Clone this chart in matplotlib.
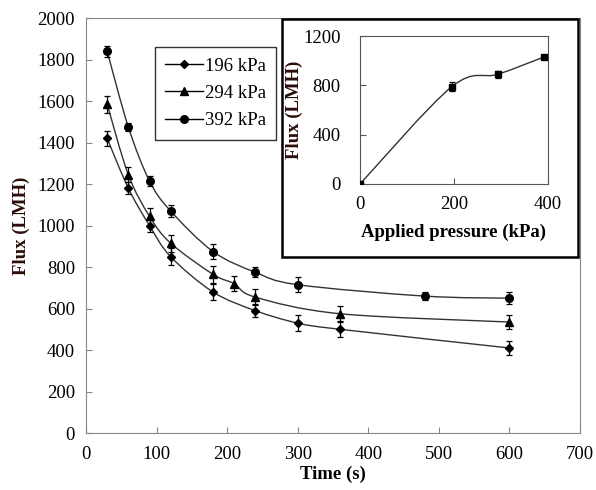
import numpy as np
import matplotlib
matplotlib.use("Agg")
import matplotlib.pyplot as plt
from matplotlib.path import Path
from matplotlib.patches import PathPatch, Rectangle

# flux decline over time at three pressures
time_196 = [30, 60, 90, 120, 180, 240, 300, 360, 600]
flux_196 = [1420, 1180, 1000, 850, 680, 590, 530, 500, 410]
err_196 = [35, 30, 30, 40, 40, 30, 40, 35, 35]

time_294 = [30, 60, 90, 120, 180, 210, 240, 360, 600]
flux_294 = [1585, 1245, 1045, 915, 765, 720, 655, 575, 535]
err_294 = [40, 35, 40, 40, 40, 35, 40, 35, 35]

time_392 = [30, 60, 90, 120, 180, 240, 300, 480, 600]
flux_392 = [1840, 1475, 1215, 1070, 875, 775, 715, 660, 650]
err_392 = [25, 20, 25, 30, 35, 25, 35, 20, 30]

# inset: steady flux vs applied pressure
pressure = [0, 196, 294, 392]
flux_p = [0, 790, 890, 1030]
err_p = [5, 35, 30, 20]

plt.rcParams["font.family"] = ["Liberation Serif", "DejaVu Serif"]


def smooth(ax, xs, ys):
    # catmull-rom style smoothed line, like excel's smoothed scatter
    p = np.column_stack([xs, ys]).astype(float)
    n = len(p)
    verts = [p[0]]
    codes = [Path.MOVETO]
    for i in range(n - 1):
        p0 = p[i - 1] if i > 0 else p[i]
        p3 = p[i + 2] if i + 2 < n else p[i + 1]
        c1 = p[i] + (p[i + 1] - p0) / 6
        c2 = p[i + 1] - (p3 - p[i]) / 6
        verts += [c1, c2, p[i + 1]]
        codes += [Path.CURVE4] * 3
    ax.add_patch(PathPatch(Path(verts, codes), fill=False, lw=1.0,
                           edgecolor="#333333", zorder=2))


fig = plt.figure(figsize=(5.96, 4.90), dpi=100)
ax = fig.add_axes([0.1443, 0.1163, 0.8287, 0.8467])

series = [
    (time_196, flux_196, err_196, "D", 4.5, "196 kPa"),
    (time_294, flux_294, err_294, "^", 6, "294 kPa"),
    (time_392, flux_392, err_392, "o", 5.5, "392 kPa"),
]
handles = []
for t, f, e, m, ms, lab in series:
    smooth(ax, t, f)
    ax.errorbar(t, f, yerr=e, fmt=m, ms=ms, color="black", ecolor="black",
                elinewidth=0.9, capsize=2.5, capthick=0.9, zorder=3)
    h, = ax.plot([], [], marker=m, ms=ms, color="black", lw=1.0, label=lab)
    handles.append(h)

ax.set_xlim(0, 700)
ax.set_ylim(0, 2000)
ax.set_xticks(range(0, 701, 100))
ax.set_yticks(range(0, 2001, 200))
ax.tick_params(direction="in", length=4, labelsize=13.5, color="#888888")
ax.tick_params(axis="x", pad=9)
ax.tick_params(axis="y", pad=8)
for s in ax.spines.values():
    s.set_color("#888888")
ax.set_xlabel("Time (s)", fontsize=13.5, fontweight="bold", labelpad=2)
ax.set_ylabel("Flux (LMH)", fontsize=13.5, fontweight="bold", color="#2a0c08",
              labelpad=5)

leg = ax.legend(handles=handles, loc="upper left",
                bbox_to_anchor=(0.14, 0.93), fontsize=13.5, frameon=True,
                fancybox=False, edgecolor="black", handlelength=2.0,
                borderpad=0.55, labelspacing=0.55, handletextpad=0.1,
                borderaxespad=0)
leg.get_frame().set_linewidth(1.0)

# frame around the inset
fig.patches.append(Rectangle((0.473, 0.4755), 0.497, 0.4855,
                             transform=fig.transFigure, facecolor="white",
                             edgecolor="black", lw=1.8, zorder=5))

ins = fig.add_axes([0.604, 0.6245, 0.315, 0.302], zorder=6)
smooth(ins, pressure, flux_p)
ins.errorbar(pressure, flux_p, yerr=err_p, fmt="s", ms=4.5, color="black",
             elinewidth=0.9, capsize=2.5, capthick=0.9, zorder=3)
ins.set_xlim(0, 400)
ins.set_ylim(0, 1200)
ins.set_xticks([0, 200, 400])
ins.set_yticks([0, 400, 800, 1200])
ins.tick_params(direction="in", length=4, labelsize=13.5, color="#555555")
ins.tick_params(axis="x", pad=9)
ins.tick_params(axis="y", pad=14)
for s in ins.spines.values():
    s.set_color("#555555")
ins.set_xlabel("Applied pressure (kPa)", fontsize=13.5, fontweight="bold",
               labelpad=7)
ins.set_ylabel("Flux (LMH)", fontsize=13.5, fontweight="bold", color="#2a0c08",
               labelpad=0)

fig.savefig("out.png", dpi=100)
